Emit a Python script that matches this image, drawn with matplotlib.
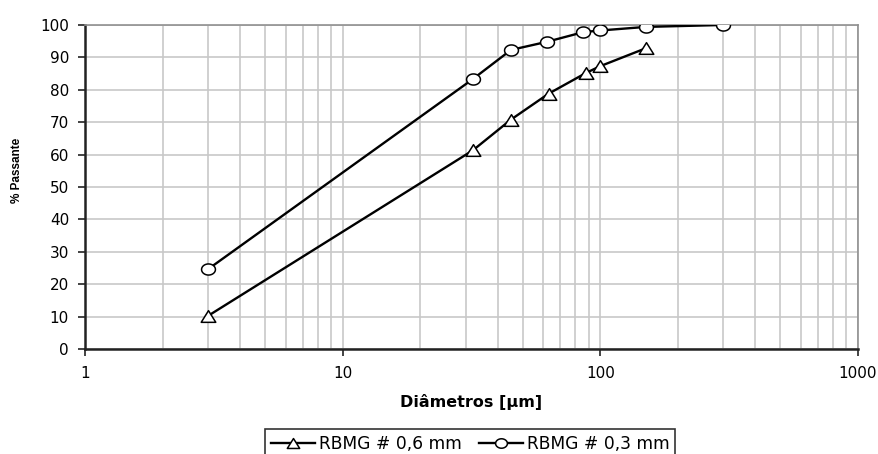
import math
import matplotlib as mlp
mlp.use("Agg")
import matplotlib.pyplot as plt
from matplotlib.path import Path
from matplotlib.ticker import LogLocator, FixedLocator, NullFormatter

plt.rcParams['font.family'] = ['DejaVu Sans']

# RBMG # 0,6 mm
d_06 = [3, 32, 45, 63, 88, 100, 150]
p_06 = [10.2, 61.3, 70.8, 78.8, 85.2, 87.3, 92.8]
# RBMG # 0,3 mm
d_03 = [3, 32, 45, 62, 86, 100, 150, 300]
p_03 = [24.6, 83.3, 92.3, 94.8, 97.8, 98.3, 99.4, 100]

yticks = [0, 10, 20, 30, 40, 50, 60, 70, 80, 90, 100]
xticks = [1, 10, 100, 1000]
xticklabels = ['1', '10', '100', '1000']

# squashed markers like the excel ones
tri = Path([(0, 0.8), (-1, -0.8), (1, -0.8), (0, 0.8)], closed=True)
ell_v = [(math.cos(2 * math.pi * k / 36), 0.8 * math.sin(2 * math.pi * k / 36)) for k in range(37)]
ell = Path(ell_v, closed=True)

fig = plt.figure(figsize=(8.79, 4.54), dpi=100)
ax = fig.add_axes([0.0967, 0.2313, 0.8794, 0.7137])

ax.plot(d_06, p_06, color='black', lw=1.7, marker=tri, ms=10.5,
        mfc='white', mec='black', mew=1.1, label='RBMG # 0,6 mm', zorder=3)
ax.plot(d_03, p_03, color='black', lw=1.7, marker=ell, ms=10,
        mfc='white', mec='black', mew=1.1, label='RBMG # 0,3 mm', zorder=3)

ax.set_xscale('log')
ax.set_xlim(1, 1000)
ax.set_ylim(0, 100)
ax.set_yticks(yticks)
ax.xaxis.set_major_locator(FixedLocator(xticks))
ax.set_xticklabels(xticklabels)
ax.xaxis.set_minor_locator(LogLocator(base=10, subs=range(2, 10)))
ax.xaxis.set_minor_formatter(NullFormatter())

ax.grid(True, which='both', axis='x', color='#c8c8c8', lw=1.2)
ax.grid(True, which='major', axis='y', color='#c8c8c8', lw=1.2)
ax.set_axisbelow(True)

for s in ['top', 'right']:
    ax.spines[s].set_color('#909090')
    ax.spines[s].set_linewidth(1.2)
for s in ['left', 'bottom']:
    ax.spines[s].set_color('#222222')
    ax.spines[s].set_linewidth(1.8)

ax.tick_params(axis='both', which='major', direction='out', length=5,
               width=1.2, labelsize=11, color='#222222')
ax.tick_params(axis='x', which='minor', length=0)
ax.tick_params(axis='x', pad=7.5)
ax.tick_params(axis='y', pad=6.5)

ax.set_ylabel('% Passante', family='Liberation Sans', fontsize=8.5,
              fontweight='bold')
ax.yaxis.set_label_coords(-0.080, 0.552)
ax.set_xlabel('Diâmetros [µm]', fontsize=11.5, fontweight='bold')
ax.xaxis.set_label_coords(0.4994, -0.14)

leg = fig.legend(*ax.get_legend_handles_labels(), loc='upper left',
                 bbox_to_anchor=(265 / 879, 1 - 429 / 454), ncol=2,
                 fontsize=12.3, frameon=True, fancybox=False, markerscale=0.85,
                 handlelength=2.6, handletextpad=0.2, columnspacing=1.0,
                 borderpad=0.35, borderaxespad=0)
leg.get_frame().set_edgecolor('black')
leg.get_frame().set_linewidth(1.2)

plt.savefig("out.png", dpi=100)
